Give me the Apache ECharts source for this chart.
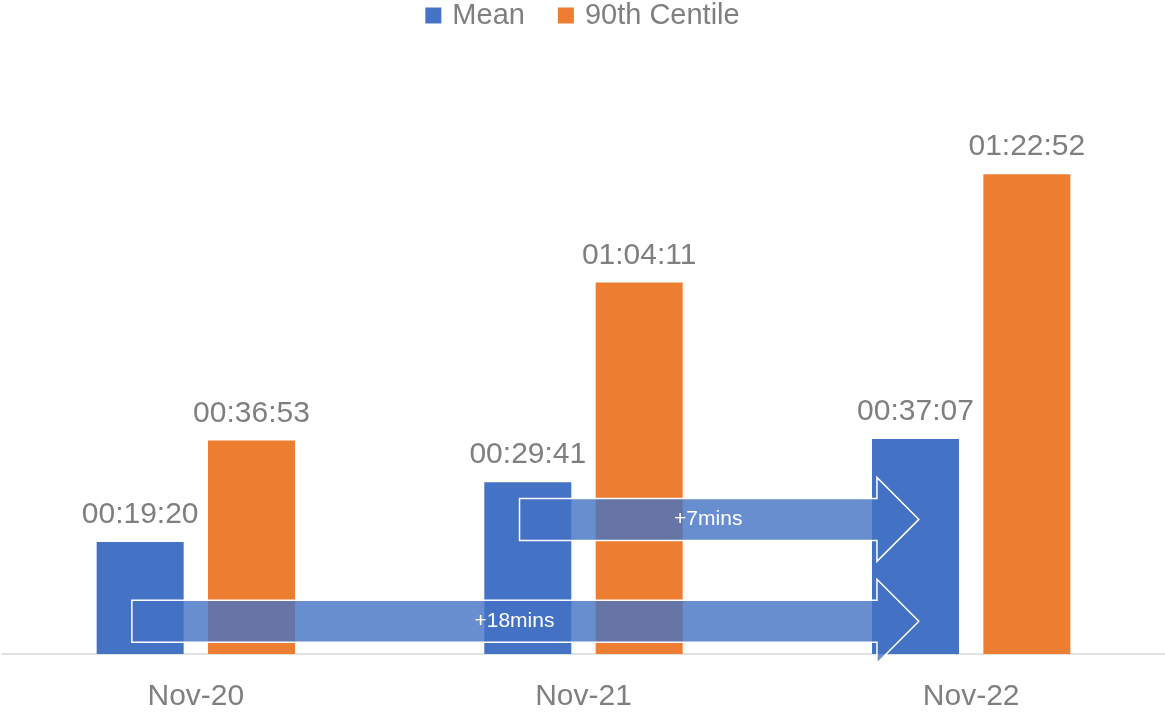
<!DOCTYPE html>
<html>
<head>
<meta charset="utf-8">
<script src="https://cdn.jsdelivr.net/npm/echarts@6/dist/echarts.min.js"></script>
<style>
  html, body { margin: 0; padding: 0; background: #fff; }
  #chart { width: 1165px; height: 712px; }
</style>
</head>
<body>
<div id="chart"></div>
<script>
// Response times per month (hh:mm:ss)
const categories = ['Nov-20', 'Nov-21', 'Nov-22'];
const meanTimes = ['00:19:20', '00:29:41', '00:37:07'];
const centileTimes = ['00:36:53', '01:04:11', '01:22:52'];

// Change arrows: from category index, to category index, height (seconds), caption
const arrowFrom = [0, 1];
const arrowTo = [2, 2];
const arrowLevel = [340, 1395];
const arrowText = ['+18mins', '+7mins'];

function toSeconds(t) {
  const p = t.split(':').map(Number);
  return p[0] * 3600 + p[1] * 60 + p[2];
}
function toClock(s) {
  const h = Math.floor(s / 3600), m = Math.floor((s % 3600) / 60), sec = s % 60;
  return [h, m, sec].map(v => String(v).padStart(2, '0')).join(':');
}

const meanSec = meanTimes.map(toSeconds);
const centileSec = centileTimes.map(toSeconds);
const arrowData = arrowFrom.map((f, i) => [f, arrowLevel[i], arrowTo[i], arrowText[i]]);

const FONT = 'Liberation Sans';
const GREY = '#7f7f7f';

const chart = echarts.init(document.getElementById('chart'), null, { renderer: 'canvas' });

const labelStyle = {
  show: true,
  position: 'top',
  distance: 12,
  color: GREY,
  fontFamily: FONT,
  fontSize: 30,
  formatter: p => toClock(p.value)
};

chart.setOption({
  animation: false,
  backgroundColor: '#fff',
  legend: {
    data: ['Mean', '90th Centile'],
    top: -4,
    left: 'center',
    itemWidth: 16,
    itemHeight: 16,
    itemGap: 33,
    icon: 'rect',
    textStyle: { color: GREY, fontFamily: FONT, fontSize: 29, padding: [0, 0, 0, 6] }
  },
  grid: { left: 2, right: 0, top: 75, bottom: 58, containLabel: false },
  xAxis: {
    type: 'category',
    data: categories,
    axisLine: { lineStyle: { color: '#d9d9d9', width: 1.5 } },
    axisTick: { show: false },
    axisLabel: { color: GREY, fontFamily: FONT, fontSize: 30, margin: 28 }
  },
  yAxis: {
    type: 'value',
    min: 0,
    max: 6000,
    show: false,
    splitLine: { show: false }
  },
  series: [
    {
      name: 'Mean',
      type: 'bar',
      data: meanSec,
      barWidth: 87,
      barGap: '28%',
      itemStyle: { color: '#4472C4' },
      label: labelStyle
    },
    {
      name: '90th Centile',
      type: 'bar',
      data: centileSec,
      barWidth: 87,
      itemStyle: { color: '#ED7D31' },
      label: labelStyle
    },
    {
      name: 'change',
      type: 'custom',
      z: 5,
      clip: false,
      data: arrowData,
      encode: { x: 0, y: 1 },
      renderItem: function (params, api) {
        const band = api.size([1, 0])[0];
        const start = api.coord([api.value(0), api.value(1)]);
        const end = api.coord([api.value(2), api.value(1)]);
        const x0 = start[0] - band * 0.165;
        const tip = end[0] - band * 0.135;
        const headBase = tip - band * 0.108;
        const cy = start[1];
        const bodyHalf = 21, headHalf = 42;
        const pts = [
          [x0, cy - bodyHalf], [headBase, cy - bodyHalf], [headBase, cy - headHalf],
          [tip, cy], [headBase, cy + headHalf], [headBase, cy + bodyHalf], [x0, cy + bodyHalf]
        ];
        const textX = (x0 + headBase) / 2 + 10;
        return {
          type: 'group',
          children: [
            {
              type: 'polygon',
              shape: { points: pts },
              style: { fill: 'rgba(68,114,196,0.8)', stroke: '#ffffff', lineWidth: 1.5 }
            },
            {
              type: 'text',
              x: textX,
              y: cy,
              style: {
                text: arrowText[params.dataIndex],
                fill: '#ffffff',
                font: '21px "' + FONT + '"',
                align: 'center',
                verticalAlign: 'middle'
              }
            }
          ]
        };
      }
    }
  ]
});
</script>
</body>
</html>
